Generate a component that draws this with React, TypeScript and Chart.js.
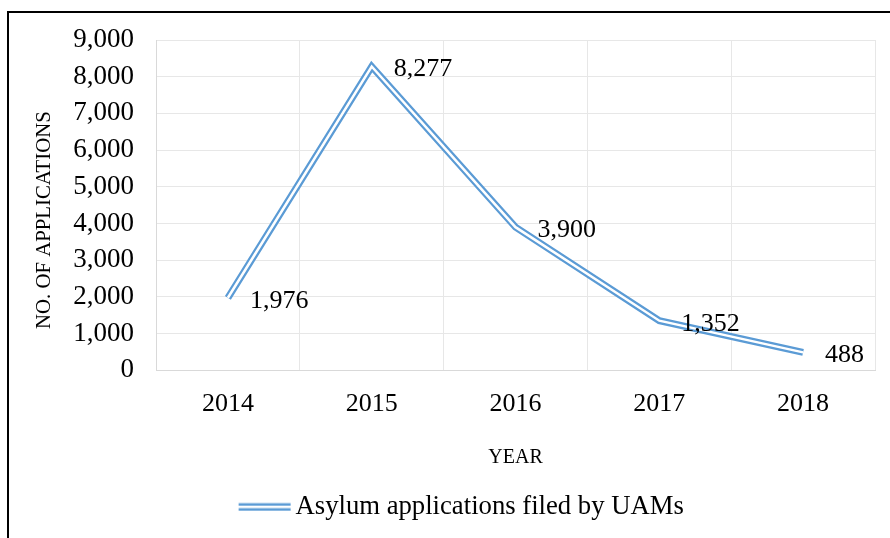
import React, { useEffect, useRef } from "react";
import { Chart, registerables } from "chart.js";

Chart.register(...registerables);

const years: string[] = ["2014", "2015", "2016", "2017", "2018"];
const applications: number[] = [1976, 8277, 3900, 1352, 488];
const yMin = 0;
const yMax = 9000;
const yStep = 1000;
const seriesLabel = "Asylum applications filed by UAMs";
const yTitle = "NO. OF APPLICATIONS";
const xTitle = "YEAR";

const FONT = '"Liberation Serif", "Times New Roman", Times, serif';
const BLUE = "#5B9BD5";
const GRID = "#e7e7e7";
const AXIS = "#d9d9d9";

function makeLegendIcon(): HTMLCanvasElement {
  const c = document.createElement("canvas");
  c.width = 120;
  c.height = 10;
  const ctx = c.getContext("2d")!;
  ctx.fillStyle = BLUE;
  ctx.fillRect(62, 1.5, 52, 2.5);
  ctx.fillRect(62, 6.5, 52, 2.5);
  return c;
}

const fmt = (v: number) => v.toLocaleString("en-US");

export default function App() {
  const ref = useRef<HTMLCanvasElement | null>(null);

  useEffect(() => {
    if (!ref.current) return;
    const icon = makeLegendIcon();

    const labelPlugin = {
      id: "valueLabels",
      afterDatasetsDraw(chart: any) {
        const meta = chart.getDatasetMeta(0);
        const ctx = chart.ctx;
        ctx.save();
        ctx.font = `26px ${FONT}`;
        ctx.fillStyle = "#000";
        ctx.textAlign = "left";
        ctx.textBaseline = "middle";
        meta.data.forEach((pt: any, i: number) => {
          ctx.fillText(fmt(applications[i]), pt.x + 22, pt.y + 3);
        });
        ctx.restore();
      },
    };

    const yTitlePlugin = {
      id: "yTitle",
      afterDraw(chart: any) {
        const ctx = chart.ctx;
        const area = chart.chartArea;
        ctx.save();
        ctx.translate(45, (area.top + area.bottom) / 2 + 15);
        ctx.rotate(-Math.PI / 2);
        ctx.font = `20.8px ${FONT}`;
        ctx.fillStyle = "#000";
        ctx.textAlign = "center";
        ctx.textBaseline = "middle";
        ctx.fillText(yTitle, 0, 0);
        ctx.restore();
      },
    };

    const chart = new Chart(ref.current, {
      type: "line",
      data: {
        labels: years,
        datasets: [
          {
            label: seriesLabel,
            data: applications,
            borderColor: BLUE,
            backgroundColor: BLUE,
            borderWidth: 7,
            borderJoinStyle: "miter",
            borderCapStyle: "butt",
            pointRadius: 0,
            pointHoverRadius: 0,
            tension: 0,
            fill: false,
            order: 2,
          },
          {
            label: "_inner",
            data: applications,
            borderColor: "#ffffff",
            borderWidth: 2.5,
            borderJoinStyle: "miter",
            borderCapStyle: "butt",
            pointRadius: 0,
            pointHoverRadius: 0,
            tension: 0,
            fill: false,
            order: 1,
          },
        ],
      },
      options: {
        responsive: false,
        animation: false,
        devicePixelRatio: 1,
        layout: { padding: { left: 0, right: 15, top: 40, bottom: 8 } },
        plugins: {
          tooltip: { enabled: false },
          legend: {
            position: "bottom",
            labels: {
              filter: (item: any) => item.datasetIndex === 0,
              usePointStyle: true,
              pointStyle: icon,
              pointStyleWidth: 91,
              color: "#000",
              font: { family: FONT, size: 26.7 },
              padding: 10,
            },
          },
        },
        scales: {
          x: {
            type: "category",
            offset: true,
            grid: { color: GRID, drawTicks: false, offset: true },
            border: { color: AXIS, width: 1 },
            ticks: { color: "#000", font: { family: FONT, size: 26 }, padding: 18 },
            title: {
              display: true,
              text: xTitle,
              color: "#000",
              font: { family: FONT, size: 20 },
              padding: { top: 0, bottom: 14 },
            },
            afterFit: (scale: any) => {
              scale.height = 113;
            },
          },
          y: {
            min: yMin,
            max: yMax,
            grid: { color: GRID, drawTicks: false },
            border: { color: AXIS, width: 1 },
            ticks: {
              stepSize: yStep,
              color: "#000",
              font: { family: FONT, size: 27 },
              padding: 22,
              callback: (v: any) => fmt(Number(v)),
            },
            title: { display: false, text: yTitle },
            afterFit: (scale: any) => {
              scale.width = 156;
            },
          },
        },
      },
      plugins: [labelPlugin, yTitlePlugin],
    } as any);

    return () => chart.destroy();
  }, []);

  return (
    <div
      style={{
        position: "fixed",
        left: 0,
        top: 0,
        width: 890,
        height: 538,
        overflow: "hidden",
        background: "#fff",
      }}
    >
      <canvas ref={ref} width={890} height={538} style={{ position: "absolute", left: 0, top: 0 }} />
      <div
        style={{
          position: "absolute",
          left: 7,
          top: 11,
          width: 1000,
          height: 1000,
          borderLeft: "2px solid #000",
          borderTop: "2px solid #000",
          pointerEvents: "none",
        }}
      />
    </div>
  );
}
